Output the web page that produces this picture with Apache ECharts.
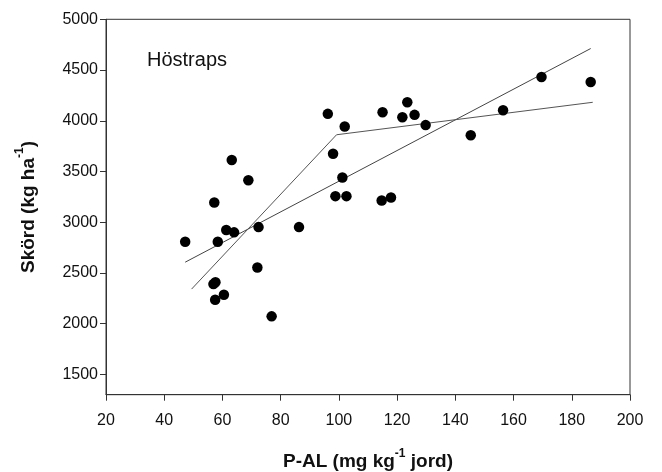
<!DOCTYPE html>
<html>
<head>
<meta charset="utf-8">
<script src="https://cdn.jsdelivr.net/npm/echarts@6/dist/echarts.min.js"></script>
<style>
html,body{margin:0;padding:0;background:#fff;}
#chart{width:662px;height:472px;}
</style>
</head>
<body>
<div id="chart"></div>
<script>
// P-AL (mg/kg jord) values of observations
const pal = [47.2, 57.2, 58.4, 61.3, 64.0, 63.2, 68.9, 72.4, 72.0, 56.9, 57.6, 57.5, 60.5, 76.9, 86.3,
  96.2, 102.0, 98.0, 101.2, 98.8, 102.6, 115.0, 114.7, 117.9, 121.8, 123.5, 126.0, 129.8, 145.3, 156.4, 169.6, 186.5];
// Skörd (kg/ha) values of observations
const skord = [2808, 3194, 2808, 2923, 2900, 3613, 3414, 2952, 2553, 2390, 2409, 2236, 2285, 2072, 2952,
  4068, 3943, 3675, 3440, 3257, 3257, 4084, 3214, 3243, 4035, 4182, 4058, 3957, 3858, 4104, 4431, 4382];
// Linear regression line endpoints
const linX = [47.2, 186.5];
const linY = [2606, 4712];
// Broken-stick (linear-plateau) model points
const brkX = [49.4, 99.2, 187.2];
const brkY = [2341, 3862, 4182];
// Axis ticks
const yTicks = [1500, 2000, 2500, 3000, 3500, 4000, 4500, 5000];
const xTicks = [20, 40, 60, 80, 100, 120, 140, 160, 180, 200];

const pts = pal.map((x, i) => [x, skord[i]]);
const lin = linX.map((x, i) => [x, linY[i]]);
const brk = brkX.map((x, i) => [x, brkY[i]]);

const chart = echarts.init(document.getElementById('chart'), null, {renderer: 'canvas'});
const FONT = '"Liberation Sans", Arial, sans-serif';
const nameRich = {
  b: {fontFamily: FONT, fontSize: 19, fontWeight: 'bold', color: '#111', lineHeight: 24, verticalAlign: 'bottom'},
  s: {fontFamily: FONT, fontSize: 12, fontWeight: 'bold', color: '#111', lineHeight: 24, verticalAlign: 'top'}
};
chart.setOption({
  animation: false,
  backgroundColor: '#fff',
  grid: {left: 106, right: 32, top: 19.3, bottom: 77.3, show: true, borderColor: '#333', borderWidth: 1,
    containLabel: false, outerBoundsMode: 'none'},
  xAxis: {
    type: 'value', min: xTicks[0], max: xTicks[xTicks.length - 1], interval: 20,
    splitLine: {show: false},
    axisLine: {lineStyle: {color: '#333', width: 1}},
    axisTick: {show: true, length: 6, lineStyle: {color: '#333'}},
    axisLabel: {fontFamily: FONT, fontSize: 16, color: '#111', margin: 18, formatter: v => String(v)},
    name: '{b|P-AL (mg kg}{s|-1}{b| jord)}',
    nameLocation: 'middle', nameGap: 53,
    nameTextStyle: {rich: nameRich}
  },
  yAxis: {
    type: 'value', min: 1300, max: 5000,
    splitLine: {show: false},
    axisLine: {show: true, onZero: false, lineStyle: {color: '#333', width: 1}},
    axisTick: {show: true, inside: false, length: 6, lineStyle: {color: '#333', width: 1}, customValues: yTicks},
    axisLabel: {fontFamily: FONT, fontSize: 16, color: '#111', margin: 8, customValues: yTicks, formatter: v => String(v)},
    name: '{b|Skörd (kg ha}{s|-1}{b|)}',
    nameLocation: 'middle', nameGap: 68, nameRotate: 90,
    nameTextStyle: {rich: nameRich}
  },
  graphic: [{
    type: 'text', left: 147, top: 50,
    style: {text: 'Höstraps', fontFamily: FONT, fontSize: 20, fill: '#111'}
  }],
  series: [
    {type: 'line', data: lin, symbol: 'none', lineStyle: {color: '#444', width: 1}, z: 2},
    {type: 'line', data: brk, symbol: 'none', lineStyle: {color: '#555', width: 1}, z: 2},
    {type: 'scatter', data: pts, symbol: 'circle', symbolSize: 10.5, itemStyle: {color: '#000', opacity: 1}, z: 3}
  ]
});
</script>
</body>
</html>
